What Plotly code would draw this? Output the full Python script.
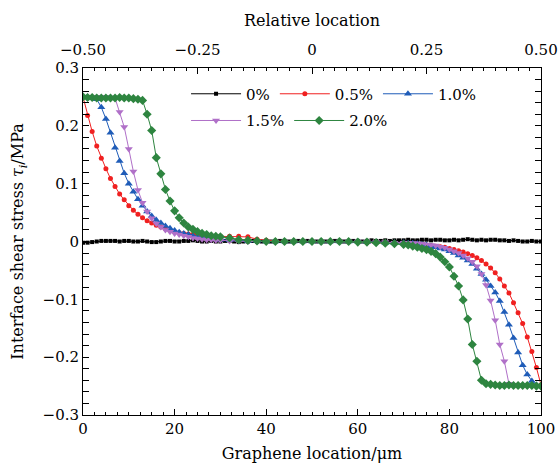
import plotly.graph_objects as go

# graphene location (um); black series sampled every 1 um,
# strained series every 1 um near the ends and every 2 um in the middle
x_plain = list(range(0, 101))
x_strain = list(range(0, 31)) + list(range(32, 70, 2)) + list(range(70, 101))

tau_0 = [
    -0.002, -0.002, -0.001, 0.000, 0.001, 0.001, 0.001, 0.001, 0.000, 0.001, 0.001,
    0.000, 0.000, 0.001, 0.000, -0.001, -0.001, 0.000, 0.001, 0.001, 0.000,
    0.000, 0.001, 0.001, 0.002, 0.001, 0.000, 0.000, 0.001, 0.000, 0.000,
    0.001, 0.001, 0.000, -0.001, 0.000, 0.000, 0.001, 0.000, 0.000, 0.001,
    0.000, 0.000, 0.001, 0.001, 0.000, 0.000, 0.001, 0.000, 0.001, 0.000,
    0.000, 0.001, 0.000, 0.000, 0.001, 0.001, 0.000, 0.000, 0.001, 0.001,
    0.000, 0.001, 0.002, 0.001, 0.001, 0.002, 0.001, 0.002, 0.002, 0.002,
    0.003, 0.002, 0.002, 0.003, 0.003, 0.002, 0.003, 0.003, 0.002, 0.002,
    0.003, 0.002, 0.003, 0.004, 0.003, 0.002, 0.003, 0.002, 0.003, 0.003,
    0.002, 0.002, 0.001, 0.002, 0.001, 0.000, 0.000, 0.001, 0.000, 0.000,
]

tau_05 = [
    0.250, 0.218, 0.190, 0.165, 0.144, 0.126, 0.109, 0.095, 0.082, 0.072, 0.062,
    0.054, 0.047, 0.041, 0.036, 0.032, 0.028, 0.025, 0.022, 0.019, 0.017,
    0.015, 0.014, 0.013, 0.012, 0.011, 0.010, 0.010, 0.009, 0.009, 0.009,
    0.009, 0.009, 0.008, 0.004, 0.002, 0.001, 0.000, 0.000, 0.000, 0.000,
    0.000, 0.000, 0.000, -0.001, -0.001, -0.002, -0.002, -0.003, -0.003,
    -0.003, -0.004, -0.004, -0.005, -0.005, -0.006, -0.007, -0.008, -0.009, -0.010,
    -0.012, -0.014, -0.016, -0.018, -0.021, -0.024, -0.028, -0.033, -0.039, -0.046,
    -0.054, -0.065, -0.077, -0.089, -0.106, -0.123, -0.142, -0.165, -0.190, -0.218, -0.248,
]

tau_10 = [
    0.250, 0.250, 0.249, 0.246, 0.232, 0.212, 0.188, 0.162, 0.139, 0.118, 0.100,
    0.086, 0.073, 0.062, 0.052, 0.044, 0.037, 0.032, 0.027, 0.023, 0.019,
    0.016, 0.014, 0.012, 0.010, 0.008, 0.007, 0.006, 0.005, 0.004, 0.003,
    0.002, 0.002, 0.001, 0.001, 0.000, 0.000, 0.000, 0.000, 0.000, 0.000,
    0.000, 0.000, 0.000, 0.000, 0.000, -0.001, -0.001, -0.002, -0.002,
    -0.002, -0.003, -0.003, -0.004, -0.005, -0.006, -0.008, -0.010, -0.012, -0.014,
    -0.017, -0.020, -0.024, -0.028, -0.033, -0.039, -0.047, -0.056, -0.066, -0.077,
    -0.088, -0.103, -0.122, -0.144, -0.167, -0.192, -0.214, -0.230, -0.241, -0.248, -0.250,
]

tau_15 = [
    0.250, 0.250, 0.250, 0.250, 0.250, 0.250, 0.249, 0.248, 0.224, 0.198, 0.160,
    0.121, 0.089, 0.067, 0.052, 0.040, 0.031, 0.025, 0.020, 0.017, 0.014,
    0.012, 0.010, 0.008, 0.006, 0.005, 0.004, 0.003, 0.003, 0.002, 0.002,
    0.001, 0.001, 0.000, 0.000, 0.000, 0.000, 0.000, 0.000, 0.000, 0.000,
    0.000, 0.000, 0.000, 0.000, 0.000, 0.000, -0.001, -0.001, -0.002,
    -0.002, -0.002, -0.003, -0.003, -0.004, -0.005, -0.006, -0.007, -0.009, -0.011,
    -0.014, -0.017, -0.020, -0.024, -0.029, -0.035, -0.043, -0.056, -0.075, -0.102,
    -0.136, -0.178, -0.207, -0.246, -0.248, -0.249, -0.249, -0.249, -0.249, -0.250, -0.250,
]

tau_20 = [
    0.250, 0.249, 0.249, 0.248, 0.248, 0.248, 0.248, 0.248, 0.249, 0.248, 0.248,
    0.247, 0.246, 0.244, 0.220, 0.192, 0.145, 0.117, 0.090, 0.070, 0.053,
    0.041, 0.032, 0.025, 0.021, 0.017, 0.014, 0.012, 0.010, 0.009, 0.008,
    0.006, 0.003, 0.002, 0.001, 0.000, 0.000, 0.000, 0.000, 0.000, 0.000,
    0.000, 0.000, 0.000, 0.000, -0.001, -0.001, -0.002, -0.003, -0.004,
    -0.005, -0.006, -0.008, -0.010, -0.012, -0.014, -0.017, -0.021, -0.027, -0.035,
    -0.044, -0.060, -0.077, -0.101, -0.134, -0.178, -0.207, -0.240, -0.246, -0.247,
    -0.248, -0.249, -0.249, -0.248, -0.249, -0.249, -0.249, -0.249, -0.249, -0.250, -0.250,
]

rel_ticks = [-0.5, -0.25, 0, 0.25, 0.5]
rel_labels = ["\u22120.50", "\u22120.25", "0", "0.25", "0.50"]
y_ticks = [-0.3, -0.2, -0.1, 0, 0.1, 0.2, 0.3]
y_labels = ["\u22120.3", "\u22120.2", "\u22120.1", "0", "0.1", "0.2", "0.3"]

FONT = "DejaVu Serif"
FS = 15

series = [
    ("0%", x_plain, tau_0, "#000000", "square", 4, "legend"),
    ("0.5%", x_strain, tau_05, "#f02020", "circle", 5, "legend"),
    ("1.0%", x_strain, tau_10, "#1f5cb8", "triangle-up", 7, "legend"),
    ("1.5%", x_strain, tau_15, "#b070c8", "triangle-down", 7, "legend2"),
    ("2.0%", x_strain, tau_20, "#2e8540", "diamond", 7, "legend2"),
]

fig = go.Figure()
for name, xs, ys, color, symbol, size, leg in series:
    fig.add_trace(go.Scatter(
        x=xs, y=ys, name=name, mode="lines+markers",
        line=dict(color=color, width=1),
        marker=dict(symbol=symbol, size=size, color=color),
        legend=leg,
    ))

# invisible trace to carry the top axis
fig.add_trace(go.Scatter(x=[-0.5, 0.5], y=[0, 0], xaxis="x2", mode="lines",
                         line=dict(width=0), showlegend=False, hoverinfo="skip"))

tickfont = dict(family=FONT, size=FS, color="black")
titlefont = dict(family=FONT, size=16, color="black")

fig.update_layout(
    width=559, height=466,
    margin=dict(l=83, r=18, t=68, b=51),
    paper_bgcolor="white", plot_bgcolor="white",
    font=dict(family=FONT, size=FS, color="black"),
    xaxis=dict(
        range=[0, 100], dtick=20, tick0=0, automargin=False,
        ticks="inside", ticklen=6, tickcolor="black",
        minor=dict(dtick=2.5, ticks="inside", ticklen=3, tickcolor="black"),
        showline=True, linecolor="black", linewidth=1,
        showgrid=False, zeroline=False, tickfont=tickfont,
        title=dict(text="Graphene location/\u03bcm", font=titlefont, standoff=10),
    ),
    xaxis2=dict(
        range=[-0.5, 0.5], overlaying="x", side="top", automargin=False,
        tickvals=rel_ticks, ticktext=rel_labels, ticklabelstandoff=6,
        ticks="inside", ticklen=6, tickcolor="black",
        minor=dict(dtick=0.025, tick0=0, ticks="inside", ticklen=3, tickcolor="black"),
        showline=True, linecolor="black", linewidth=1,
        showgrid=False, zeroline=False, tickfont=tickfont,
        title=dict(text="Relative location", font=titlefont, standoff=10),
    ),
    yaxis=dict(
        range=[-0.3, 0.3], automargin=False,
        tickvals=y_ticks, ticktext=y_labels,
        ticks="inside", ticklen=6, tickcolor="black",
        minor=dict(dtick=0.02, tick0=0, ticks="inside", ticklen=3, tickcolor="black"),
        showline=True, linecolor="black", linewidth=1, mirror="allticks",
        showgrid=False, zeroline=False, tickfont=tickfont,
        title=dict(text="Interface shear stress <i>\u03c4<sub>i</sub></i>/MPa",
                   font=titlefont, standoff=14),
    ),
    legend=dict(
        orientation="h", x=0.225, y=0.925, xanchor="left", yanchor="middle",
        font=dict(family=FONT, size=FS), bgcolor="rgba(0,0,0,0)",
        itemwidth=50, tracegroupgap=0,
    ),
    legend2=dict(
        orientation="h", x=0.225, y=0.848, xanchor="left", yanchor="middle",
        font=dict(family=FONT, size=FS), bgcolor="rgba(0,0,0,0)",
        itemwidth=50, tracegroupgap=0,
    ),
)

# drop the default page margin so the figure fills the window exactly
fig.write_html("out.html", config={"displayModeBar": False},
               post_script="document.body.style.margin='0';")
